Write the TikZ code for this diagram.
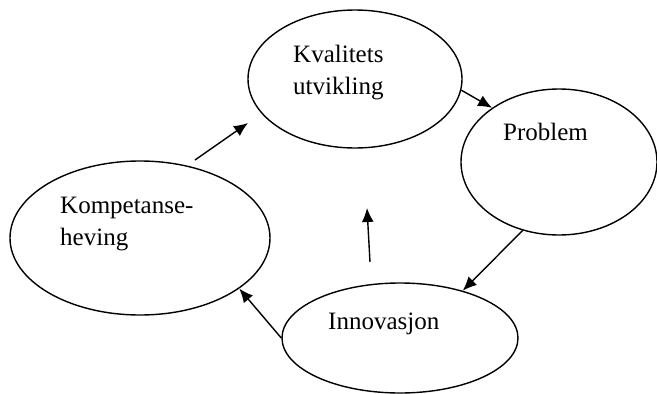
\documentclass[tikz,border=0pt]{standalone}
\usepackage{fontspec}
\setmainfont{Liberation Serif}
\usepackage{tikz}
\usetikzlibrary{
  shapes.geometric,%
  arrows.meta,
  positioning
}
\tikzset{>={Latex[length=14pt,width=12pt]}}
\tikzset{
  bubble/.style={draw, ellipse, line width=1.4pt, inner sep=0pt},
  bubbletext/.style={anchor=base west, inner sep=0pt, align=left,
    font=\fontsize{25}{32}\selectfont},
  flow/.style={->, line width=1.4pt}
}

\begin{document}
\begin{tikzpicture}[x=1pt, y=-1pt]
    \useasboundingbox (0, 0) rectangle (657, 394);
    \clip (0, 0) rectangle (657, 394);
    \node[bubble, minimum width=214, minimum height=138] (kval) at (355, 79) {};
    \node[bubble, minimum width=196, minimum height=146] (prob) at (559, 162) {};
    \node[bubble, minimum width=236, minimum height=110] (innov) at (400, 338) {};
    \node[bubble, minimum width=260, minimum height=154] (komp) at (140, 238) {};

    % base anchor sits on the last line
    \node[bubbletext] (kvalText) at (293, 94) {Kvalitets\\utvikling};
    \node[bubbletext] (probText) at (503, 140.5) {Problem};
    \node[bubbletext] (innovText) at (328, 329) {Innovasjon};
    \node[bubbletext] (kompText) at (60, 245.5) {Kompetanse-\\heving};

    \coordinate (riseLow) at (195, 160);
    \coordinate (riseHigh) at (248, 123);
    \coordinate (gapLow) at (370, 262);
    \coordinate (gapHigh) at (367, 208);

    \draw[flow] (kval.-6) -- (prob.141);
    \draw[flow] (prob.-118) -- (innov.37);
    \draw[flow] (innov.west) -- (komp.-27);
    \draw[flow] (riseLow) -- (riseHigh);
    \draw[flow] (gapLow) -- (gapHigh);
  \end{tikzpicture}
\end{document}
